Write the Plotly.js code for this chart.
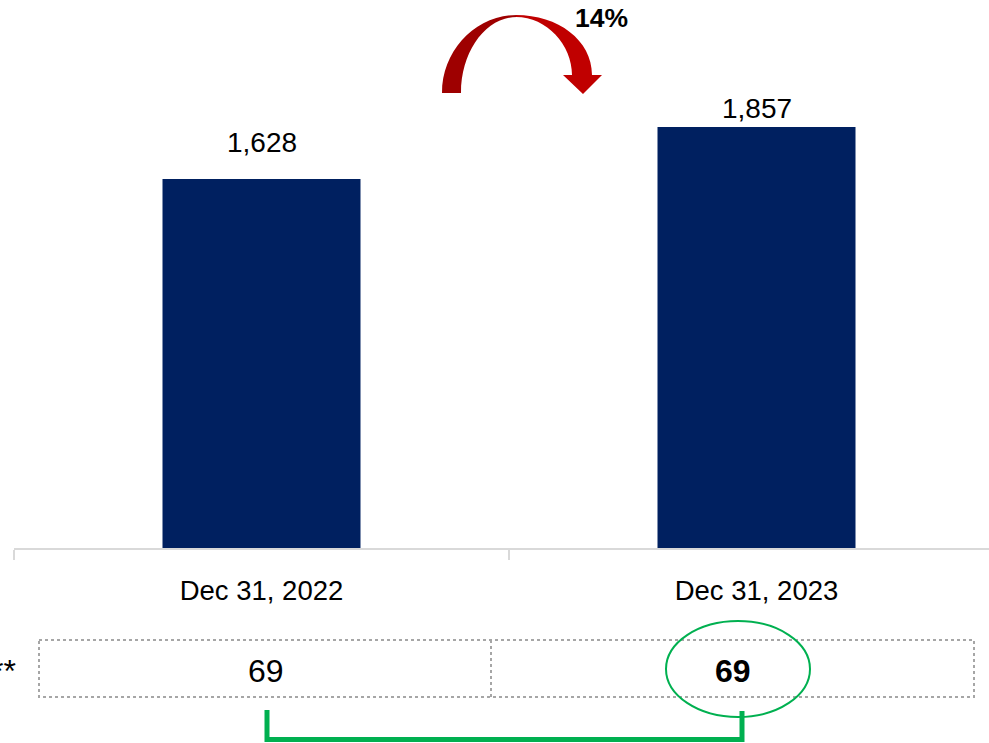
<!DOCTYPE html>
<html>
<head>
<meta charset="utf-8">
<script src="https://cdn.plot.ly/plotly-3.0.1.min.js"></script>
<style>html,body{margin:0;padding:0;background:#fff;}#chart{width:989px;height:743px;}</style>
</head>
<body>
<div id="chart"></div>
<script>
// ---- data ----
var categories = ["Dec 31, 2022", "Dec 31, 2023"];
var values = [1628, 1857];
var ratioValues = [69, 69];
var changeLabel = "14%";
var rowLabel = "**";

// ---- layout helpers (pixel -> paper) ----
var W = 989, H = 743, ML = 14, MR = 0, MT = 0, MB = 195;
var PW = W - ML - MR, PH = H - MT - MB;
function px(p) { return (p - ML) / PW; }
function py(p) { return (MT + PH - p) / PH; }
function pt(x, y) { return px(x) + "," + py(y); }

var sans = "Liberation Sans, Arial, sans-serif";

var trace = {
  type: "bar",
  x: categories,
  y: values,
  marker: { color: "#002060" },
  hoverinfo: "skip",
  width: 0.4
};

var annotations = [];
// value labels above bars (per-label vertical offsets are styling)
var labelShift = [19, 1];
for (var i = 0; i < categories.length; i++) {
  annotations.push({
    x: categories[i], y: values[i], xref: "x", yref: "y",
    text: values[i].toLocaleString("en-US"),
    showarrow: false, yanchor: "bottom", yshift: labelShift[i],
    font: { family: sans, size: 28, color: "#000" }
  });
}
// table values
var cellCenters = [265.5, 732.5];
for (var j = 0; j < ratioValues.length; j++) {
  annotations.push({
    x: px(cellCenters[j]), y: py(670.5), xref: "paper", yref: "paper",
    text: j === ratioValues.length - 1 ? "<b>" + ratioValues[j] + "</b>" : String(ratioValues[j]),
    showarrow: false, xanchor: "center", yanchor: "middle",
    font: { family: sans, size: 32, color: "#000" }
  });
}
annotations.push({
  x: px(18), y: py(670.5), xref: "paper", yref: "paper", text: rowLabel,
  showarrow: false, xanchor: "right", yanchor: "middle",
  font: { family: sans, size: 32, color: "#000" }
});
annotations.push({
  x: px(601.5), y: py(18), xref: "paper", yref: "paper", text: "<b>" + changeLabel + "</b>",
  showarrow: false, xanchor: "center", yanchor: "middle",
  font: { family: sans, size: 26.5, color: "#000" }
});

var arrowLeft = "M " + pt(442, 93) +
  " C " + pt(442, 50) + " " + pt(476, 15) + " " + pt(517, 15) +
  " L " + pt(517, 17) +
  " C " + pt(486, 17) + " " + pt(461, 51) + " " + pt(461, 93) + " Z";
var arrowRight = "M " + pt(516, 15) +
  " C " + pt(558, 15) + " " + pt(592, 40) + " " + pt(592, 75) +
  " L " + pt(602, 75) + " L " + pt(583, 94) + " L " + pt(563, 75) + " L " + pt(572, 75) +
  " C " + pt(572, 45) + " " + pt(547, 17) + " " + pt(516, 17) + " Z";

var dotted = { color: "#a6a6a6", width: 2, dash: "dot" };
var shapes = [
  { type: "path", xref: "paper", yref: "paper", path: arrowLeft, fillcolor: "#9e0000", line: { width: 0 } },
  { type: "path", xref: "paper", yref: "paper", path: arrowRight, fillcolor: "#c00000", line: { width: 0 } },
  { type: "rect", xref: "paper", yref: "paper", x0: px(39), x1: px(974), y0: py(640), y1: py(697), line: dotted },
  { type: "line", xref: "paper", yref: "paper", x0: px(491), x1: px(491), y0: py(640), y1: py(697), line: dotted },
  { type: "circle", xref: "paper", yref: "paper", x0: px(666), x1: px(810), y0: py(621), y1: py(717), line: { color: "#00b050", width: 2 } },
  { type: "path", xref: "paper", yref: "paper",
    path: "M " + pt(267, 710) + " L " + pt(267, 739.5) + " L " + pt(742, 739.5) + " L " + pt(742, 711),
    line: { color: "#00b050", width: 5 } }
];

var layout = {
  width: W, height: H,
  margin: { l: ML, r: MR, t: MT, b: MB, pad: 0 },
  paper_bgcolor: "#fff", plot_bgcolor: "#fff",
  showlegend: false,
  bargap: 0.6,
  xaxis: {
    type: "category", range: [-0.5, -0.5 + PW / 495],
    showline: true, linecolor: "#d9d9d9", linewidth: 2,
    ticks: "outside", tickson: "boundaries", ticklen: 10, tickcolor: "#d9d9d9", tickwidth: 2,
    showgrid: false, zeroline: false, fixedrange: true,
    tickfont: { family: sans, size: 27.5, color: "#000" },
    ticklabelstandoff: 17
  },
  yaxis: {
    range: [0, PH / 0.22668], visible: false, showgrid: false, zeroline: false, fixedrange: true
  },
  annotations: annotations,
  shapes: shapes
};

Plotly.newPlot("chart", [trace], layout, { displayModeBar: false, staticPlot: true });
</script>
</body>
</html>
